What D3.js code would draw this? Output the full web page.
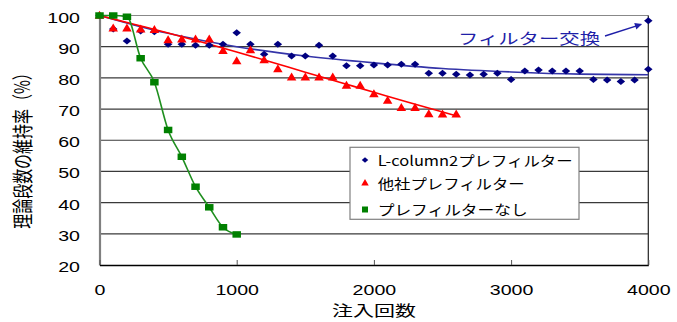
<!DOCTYPE html>
<html><head><meta charset="utf-8">
<script src="https://cdn.jsdelivr.net/npm/d3@7"></script>
<style>body{margin:0;background:#fff}</style>
</head><body><svg id="c" width="677" height="322"></svg>
<script>
// ---- data ----
const xTicks = [0, 1000, 2000, 3000, 4000];
const yTicks = [20, 30, 40, 50, 60, 70, 80, 90, 100];
const seriesNames = ["L-column2プレフィルター", "他社プレフィルター", "プレフィルターなし"];
const annotationText = "フィルター交換";
const xTitle = "注入回数";
const yTitle = "理論段数の維持率（%）";

const lcolX = [0,100,200,300,400,500,600,700,800,900,1000,1100,1200,1300,1400,1500,1600,1700,1800,1900,2000,2100,2200,2300,2400,2500,2600,2700,2800,2900,3000,3100,3200,3300,3400,3500,3600,3700,3800,3900,4000,4000];
const lcolY = [100,95.7,91.8,95.0,94.8,90.8,90.8,90.5,90.5,90.8,94.5,90.8,87.6,90.8,87.0,87.0,90.5,87.0,83.9,83.9,84.1,84.1,84.4,84.4,81.5,81.5,81.2,80.9,81.2,81.5,79.5,82.2,82.5,82.2,82.2,82.2,79.5,79.3,78.8,79.3,82.8,98.3];
const otherX = [0,100,200,300,400,500,600,700,800,900,1000,1100,1200,1300,1400,1500,1600,1700,1800,1900,2000,2100,2200,2300,2400,2500,2600];
const otherY = [100,95.9,95.9,95.6,95.4,92.1,92.4,92.4,92.4,88.7,85.4,88.9,85.7,82.8,80.2,80.2,80.2,80.2,77.5,77.5,74.8,72.7,70.4,70.4,68.4,68.3,68.3];
const noneX = [0,100,200,300,400,500,600,700,800,900,1000];
const noneY = [100,100,99.6,86.3,78.6,63.3,54.7,45.1,38.5,32.1,29.8];

// trend lines
const lcolTrendX = [0,250,500,750,1000,1500,2000,2500,3000,3500,4000];
const lcolTrendY = [100,97,94.3,92,90,87,84.8,83,81.9,81.2,81.0];
const otherTrendX = [0,250,500,750,1000,1250,1500,1750,2000,2250,2600];
const otherTrendY = [100,97.2,94.4,91.4,88.3,85.1,81.8,78.6,75.4,72.2,67.8];

// ---- layout ----
const L = 99.5, R = 648.3, T = 15.5, B = 265;
const SX = 1.4; // horizontal stretch of the reference text
const svg = d3.select("#c");
const x = d3.scaleLinear().domain([0, 4000]).range([L, R]);
const y = d3.scaleLinear().domain([20, 100]).range([B, T]);
const blue = "#000080", blueLine = "#3434a8", red = "#ff0000", green = "#008000", greenLine = "#1f8f1f";
const numFont = "'Liberation Sans', Arial, sans-serif";
const jpFont = "'Noto Sans CJK JP', 'Noto Sans', sans-serif";

// gridlines
svg.append("g").selectAll("line").data(yTicks.filter(v => v > 20)).join("line")
  .attr("x1", L).attr("x2", R).attr("y1", d => y(d)).attr("y2", d => y(d))
  .attr("stroke", d => d === 100 ? "#888" : "#3a3a3a").attr("stroke-width", 1.2);
// right border
svg.append("line").attr("x1", R).attr("x2", R).attr("y1", T).attr("y2", B)
  .attr("stroke", "#222").attr("stroke-width", 1.2);

// axes
const yAxis = svg.append("g").attr("transform", `translate(${L},0)`)
  .call(d3.axisLeft(y).tickValues(yTicks).tickSize(0).tickPadding(0));
yAxis.select(".domain").attr("stroke", "#808080").attr("stroke-width", 2.2);
yAxis.selectAll("text").attr("x", 0).attr("dy", null)
  .attr("transform", `translate(-19.5,6.5) scale(${SX},1)`)
  .attr("text-anchor", "end").attr("font-family", numFont).attr("font-size", 14).attr("fill", "#000");

const xAxis = svg.append("g").attr("transform", `translate(0,${B})`)
  .call(d3.axisBottom(x).tickValues(xTicks).tickFormat(d3.format("d")).tickSizeInner(-5).tickSizeOuter(0).tickPadding(0));
xAxis.select(".domain").attr("stroke", "#000").attr("stroke-width", 1.5);
xAxis.selectAll("line").attr("stroke", "#555");
xAxis.selectAll("text").attr("y", 0).attr("dy", null)
  .attr("transform", `translate(0,30) scale(${SX},1)`)
  .attr("font-family", numFont).attr("font-size", 14).attr("fill", "#000");

// axis titles
svg.append("text").text(xTitle)
  .attr("transform", `translate(374,316) scale(${SX},1)`)
  .attr("text-anchor", "middle").attr("font-family", jpFont).attr("font-size", 15).attr("fill", "#000");
svg.append("text").text(yTitle)
  .attr("transform", `translate(21,147) scale(${SX},1) rotate(-90)`)
  .attr("text-anchor", "middle").attr("dominant-baseline", "central")
  .attr("font-family", jpFont).attr("font-size", 15).attr("fill", "#000");

// lines
const line = d3.line().x(d => x(d[0])).y(d => y(d[1])).curve(d3.curveMonotoneX);
svg.append("path").datum(d3.zip(lcolTrendX, lcolTrendY))
  .attr("d", line).attr("fill", "none").attr("stroke", blueLine).attr("stroke-width", 1.6);
svg.append("path").datum(d3.zip(otherTrendX, otherTrendY))
  .attr("d", line).attr("fill", "none").attr("stroke", red).attr("stroke-width", 1.6);
svg.append("path").datum(d3.zip(noneX, noneY))
  .attr("d", line).attr("fill", "none").attr("stroke", greenLine).attr("stroke-width", 1.6);

// markers
function diamond(w, h) { return `M0,${-h/2}L${w/2},0L0,${h/2}L${-w/2},0Z`; }
function tri(w, h) { return `M0,${-h*0.6}L${w/2},${h*0.4}L${-w/2},${h*0.4}Z`; }
function sq(w, h) { return `M${-w/2},${-h/2}h${w}v${h}h${-w}Z`; }

svg.append("g").selectAll("path").data(d3.zip(lcolX, lcolY)).join("path")
  .attr("transform", d => `translate(${x(d[0])},${y(d[1])})`).attr("d", diamond(8.5, 7)).attr("fill", blue);
svg.append("g").selectAll("path").data(d3.zip(otherX, otherY)).join("path")
  .attr("transform", d => `translate(${x(d[0])},${y(d[1])})`).attr("d", tri(9.5, 8)).attr("fill", red);
svg.append("g").selectAll("path").data(d3.zip(noneX, noneY)).join("path")
  .attr("transform", d => `translate(${x(d[0])},${y(d[1])})`).attr("d", sq(8.5, 6.5)).attr("fill", green);

// annotation
const defs = svg.append("defs");
defs.append("marker").attr("id", "ah").attr("viewBox", "0 0 10 10").attr("refX", 9).attr("refY", 5)
  .attr("markerWidth", 9).attr("markerHeight", 7).attr("markerUnits", "userSpaceOnUse").attr("orient", "auto")
  .append("path").attr("d", "M0,0L10,5L0,10Z").attr("fill", "#1f1fa8");
svg.append("text").text(annotationText)
  .attr("x", 458).attr("y", 44).attr("textLength", 142).attr("lengthAdjust", "spacingAndGlyphs")
  .attr("font-family", jpFont).attr("font-size", 15).attr("fill", "#1f1fa8");
svg.append("line").attr("x1", 605).attr("y1", 36)
  .attr("x2", x(4000) - 7).attr("y2", y(lcolY[lcolY.length - 1]) + 3.5)
  .attr("stroke", "#1f1fa8").attr("stroke-width", 1.4).attr("marker-end", "url(#ah)");

// legend
const lg = svg.append("g");
lg.append("rect").attr("x", 350).attr("y", 147.3).attr("width", 229).attr("height", 72)
  .attr("fill", "#fff").attr("stroke", "#808080").attr("stroke-width", 1.2);
const legendRows = [
  {name: seriesNames[0], my: 160, ty: 165.5, w: 195, d: diamond(6.5, 5.5), c: blue},
  {name: seriesNames[1], my: 183, ty: 188.5, w: 147, d: tri(7.5, 6.5), c: red},
  {name: seriesNames[2], my: 209.5, ty: 214.5, w: 150, d: sq(6, 6), c: green},
];
legendRows.forEach(r => {
  lg.append("path").attr("transform", `translate(365,${r.my})`).attr("d", r.d).attr("fill", r.c);
  lg.append("text").text(r.name).attr("x", 377.7).attr("y", r.ty)
    .attr("textLength", r.w).attr("lengthAdjust", "spacingAndGlyphs")
    .attr("font-family", jpFont).attr("font-size", 14).attr("fill", "#000");
});
</script></body></html>
